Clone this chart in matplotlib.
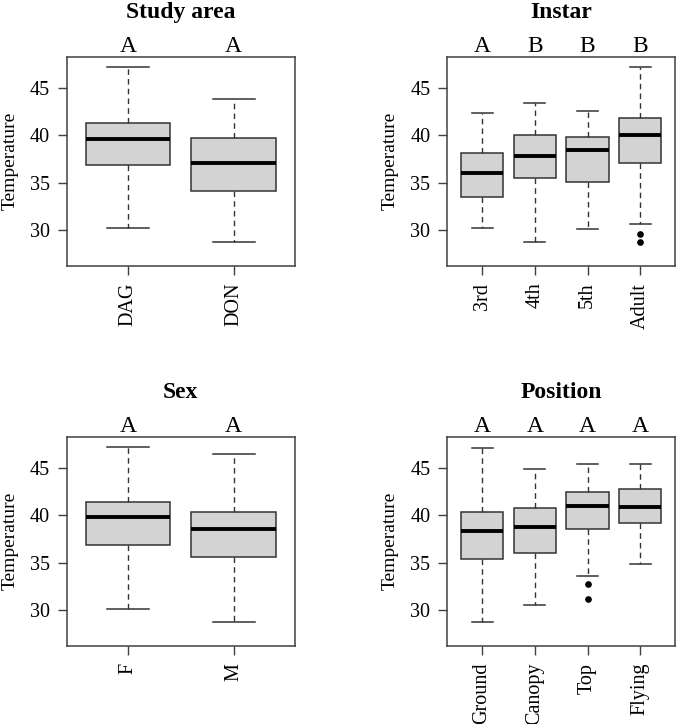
import matplotlib
matplotlib.use("Agg")
import matplotlib.pyplot as plt
from matplotlib.transforms import blended_transform_factory

plt.rcParams['font.family'] = ['Liberation Serif', 'DejaVu Serif']

# values (Temperature)
area_labels = ['DAG', 'DON']
area_low = [30.18, 28.69]
area_q1 = [36.83, 34.10]
area_med = [39.62, 37.04]
area_q3 = [41.36, 39.73]
area_high = [47.23, 43.90]
area_out = [[], []]
area_letters = ['A', 'A']

instar_labels = ['3rd', '4th', '5th', 'Adult']
instar_low = [30.18, 28.69, 30.07, 30.57]
instar_q1 = [33.50, 35.45, 35.10, 37.04]
instar_med = [35.98, 37.78, 38.42, 40.05]
instar_q3 = [38.10, 40.05, 39.87, 41.89]
instar_high = [42.42, 43.44, 42.63, 47.23]
instar_out = [[], [], [], [29.52, 28.70]]
instar_letters = ['A', 'B', 'B', 'B']

sex_labels = ['F', 'M']
sex_low = [30.07, 28.66]
sex_q1 = [36.83, 35.55]
sex_med = [39.83, 38.53]
sex_q3 = [41.46, 40.37]
sex_high = [47.23, 46.56]
sex_out = [[], []]
sex_letters = ['A', 'A']

pos_labels = ['Ground', 'Canopy', 'Top', 'Flying']
pos_low = [28.66, 30.50, 33.54, 34.82]
pos_q1 = [35.41, 35.98, 38.60, 39.24]
pos_med = [38.31, 38.80, 41.04, 40.90]
pos_q3 = [40.37, 40.80, 42.45, 42.80]
pos_high = [47.20, 44.90, 45.50, 45.50]
pos_out = [[], [], [32.69, 31.17], []]
pos_letters = ['A', 'A', 'A', 'A']

panels = [
    ('Study area', area_labels, area_low, area_q1, area_med, area_q3, area_high, area_out, area_letters),
    ('Instar', instar_labels, instar_low, instar_q1, instar_med, instar_q3, instar_high, instar_out, instar_letters),
    ('Sex', sex_labels, sex_low, sex_q1, sex_med, sex_q3, sex_high, sex_out, sex_letters),
    ('Position', pos_labels, pos_low, pos_q1, pos_med, pos_q3, pos_high, pos_out, pos_letters),
]

W, H = 678, 724
# axes rectangles in pixels: left, top, right, bottom
rects = [(66.7, 56.7, 295.0, 265.7), (447.3, 56.7, 675.0, 265.7),
         (66.7, 436.7, 295.0, 645.7), (447.3, 436.7, 675.0, 645.7)]

fig = plt.figure(figsize=(W / 100, H / 100), dpi=100)
frame_col = '#404040'

for (title, labels, lo, q1, med, q3, hi, out, letters), (l, t, r, b) in zip(panels, rects):
    ax = fig.add_axes([l / W, 1 - b / H, (r - l) / W, (b - t) / H])
    stats = []
    for i in range(len(labels)):
        stats.append(dict(whislo=lo[i], q1=q1[i], med=med[i], q3=q3[i],
                          whishi=hi[i], fliers=out[i], label=labels[i]))
    pos = list(range(1, len(labels) + 1))
    ax.bxp(stats, positions=pos, widths=0.8, patch_artist=True,
           boxprops=dict(facecolor='#d3d3d3', edgecolor='#333333', linewidth=1.1),
           medianprops=dict(color='black', linewidth=2.8, solid_capstyle='butt'),
           whiskerprops=dict(color='#333333', linewidth=1.0, linestyle=(0, (4, 3))),
           capprops=dict(color='#333333', linewidth=1.1),
           capwidths=0.4,
           flierprops=dict(marker='o', markersize=3.8, markerfacecolor='black',
                           markeredgecolor='black', linestyle='none'))
    n = len(labels)
    ax.set_xlim(0.5 - 0.04 * n, n + 0.5 + 0.04 * n)
    ax.set_ylim(26.18, 48.36)
    ax.set_yticks([30, 35, 40, 45])
    ax.set_xticks(pos)
    ax.set_xticklabels(labels, rotation=90)
    ax.tick_params(axis='both', direction='out', length=6.7, width=1.0,
                   color=frame_col, labelsize=14.5, pad=5.5)
    for s in ax.spines.values():
        s.set_color(frame_col)
        s.set_linewidth(1.1)
    ax.set_ylabel('Temperature', fontsize=14)
    ax.yaxis.set_label_coords(-0.212, 0.5)
    tr = blended_transform_factory(ax.transData, ax.transAxes)
    for x, lt in zip(pos, letters):
        ax.text(x, 1.024, lt, transform=tr, ha='center', va='baseline', fontsize=17)
    ax.text(0.5, 1.184, title, transform=ax.transAxes, ha='center', va='baseline',
            fontsize=17, fontweight='bold')

fig.savefig('out.png', dpi=100)
